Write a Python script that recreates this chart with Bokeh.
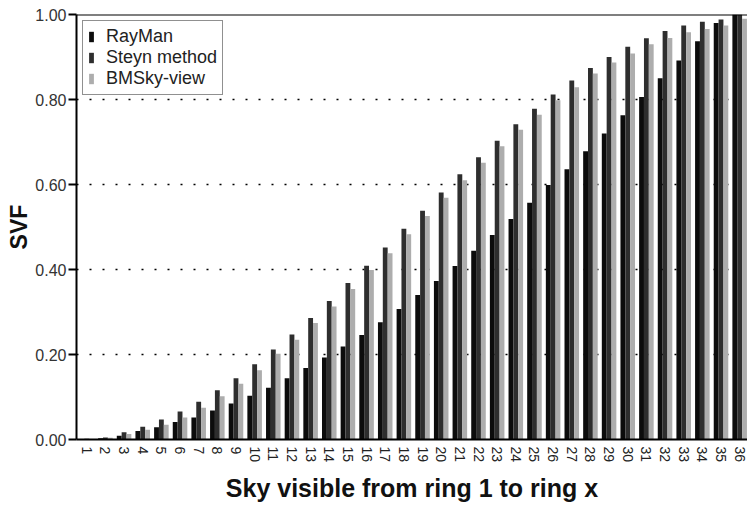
from bokeh.plotting import figure
from bokeh.models import (Range1d, FixedTicker, NumeralTickFormatter, Span, Legend,
                          LegendItem, ColumnDataSource)
from bokeh.transform import dodge
from bokeh.embed import file_html
from bokeh.resources import INLINE

rings = list(range(1, 37))
y_ticks = [0.0, 0.2, 0.4, 0.6, 0.8, 1.0]

rayman = [0.001, 0.003, 0.009, 0.020, 0.029, 0.041, 0.052, 0.068, 0.085, 0.103,
          0.122, 0.144, 0.168, 0.193, 0.219, 0.246, 0.276, 0.307, 0.340, 0.373,
          0.408, 0.444, 0.481, 0.519, 0.557, 0.599, 0.636, 0.678, 0.720, 0.763,
          0.806, 0.850, 0.892, 0.937, 0.980, 1.000]
steyn = [0.002, 0.005, 0.017, 0.030, 0.047, 0.066, 0.089, 0.116, 0.144, 0.177,
         0.212, 0.247, 0.286, 0.326, 0.368, 0.409, 0.452, 0.496, 0.538, 0.581,
         0.624, 0.664, 0.703, 0.742, 0.778, 0.812, 0.845, 0.874, 0.900, 0.924,
         0.944, 0.961, 0.974, 0.983, 0.988, 1.000]
bmsky = [0.001, 0.004, 0.013, 0.023, 0.035, 0.052, 0.075, 0.102, 0.131, 0.163,
         0.202, 0.235, 0.274, 0.313, 0.354, 0.399, 0.438, 0.483, 0.526, 0.569,
         0.610, 0.651, 0.690, 0.729, 0.764, 0.798, 0.829, 0.861, 0.887, 0.908,
         0.930, 0.945, 0.958, 0.966, 0.974, 0.990]

src = ColumnDataSource(dict(ring=rings, rayman=rayman, steyn=steyn, bmsky=bmsky))

FONT = "Liberation Sans"

p = figure(width=747, height=506, x_range=Range1d(0.45, 36.42), y_range=Range1d(0, 1.0),
           output_backend="svg", toolbar_location=None,
           min_border_left=76, min_border_right=0, min_border_top=14, min_border_bottom=67)
p.outline_line_color = None
p.background_fill_color = "white"

bw = 0.26
r1 = p.vbar(x=dodge("ring", -bw), top="rayman", width=bw, source=src,
            fill_color="#0c0c0c", line_color=None)
r2 = p.vbar(x=dodge("ring", 0.0), top="steyn", width=bw, source=src,
            fill_color="#2e2e2e", line_color=None)
r3 = p.vbar(x=dodge("ring", bw), top="bmsky", width=bw, source=src,
            fill_color="#adadad", line_color=None)

p.add_layout(Span(location=1.0, dimension="width", line_color="black", line_width=2))

# grid
p.xgrid.visible = False
p.ygrid.ticker = FixedTicker(ticks=y_ticks)
p.ygrid.grid_line_color = "black"
p.ygrid.grid_line_width = 1.6
p.ygrid.grid_line_dash = "2 11"

# y axis
p.yaxis.ticker = FixedTicker(ticks=y_ticks)
p.yaxis.formatter = NumeralTickFormatter(format="0.00")
p.yaxis.axis_label = "SVF"
p.yaxis.axis_label_text_font = FONT
p.yaxis.axis_label_text_font_style = "bold"
p.yaxis.axis_label_text_font_size = "23px"
p.yaxis.axis_label_text_color = "#111111"
p.yaxis.axis_label_standoff = 0
p.yaxis.major_label_text_font = FONT
p.yaxis.major_label_text_font_size = "16px"
p.yaxis.major_label_text_color = "#333333"
p.yaxis.major_label_standoff = 2
p.yaxis.major_tick_out = 8
p.yaxis.major_tick_in = 0
p.yaxis.minor_tick_out = 0
p.yaxis.minor_tick_in = 0
p.yaxis.axis_line_width = 2
p.yaxis.major_tick_line_width = 2

# x axis
p.xaxis.ticker = FixedTicker(ticks=rings)
p.xaxis.major_label_orientation = "vertical"
p.xaxis.major_label_text_font = FONT
p.xaxis.major_label_text_font_size = "14px"
p.xaxis.major_label_text_color = "#222222"
p.xaxis.major_label_standoff = 7
p.xaxis.major_tick_out = 0
p.xaxis.major_tick_in = 0
p.xaxis.minor_tick_out = 0
p.xaxis.minor_tick_in = 0
p.xaxis.axis_line_width = 2
p.xaxis.axis_label = "Sky visible from ring 1 to ring x"
p.xaxis.axis_label_text_font = FONT
p.xaxis.axis_label_text_font_style = "bold"
p.xaxis.axis_label_text_font_size = "25px"
p.xaxis.axis_label_text_color = "#111111"
p.xaxis.axis_label_standoff = 9

legend = Legend(items=[LegendItem(label="RayMan", renderers=[r1]),
                       LegendItem(label="Steyn method", renderers=[r2]),
                       LegendItem(label="BMSky-view", renderers=[r3])],
                location="top_left", margin=6, padding=5, spacing=0,
                label_height=21, glyph_width=6, glyph_height=13, label_standoff=12,
                label_text_font=FONT, label_text_font_size="18px",
                label_text_color="#222222",
                border_line_color="#222222", border_line_width=1.5,
                background_fill_color="white", background_fill_alpha=1.0)
p.add_layout(legend)

open("out.html", "w").write(file_html(p, INLINE))
